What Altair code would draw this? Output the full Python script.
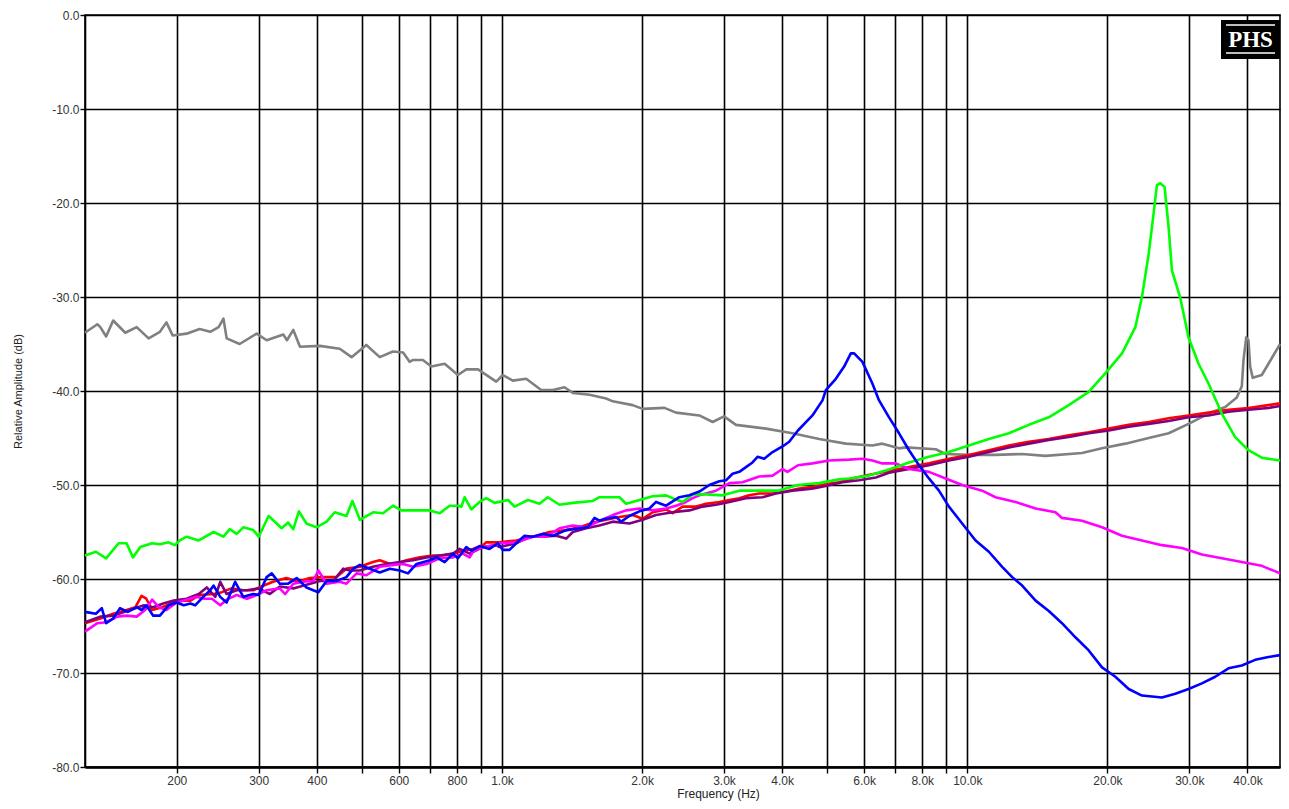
import altair as alt
import pandas as pd

# ---------------- data ----------------
gray_f = [127, 135, 137, 141, 146, 155, 164, 174, 184, 190, 196, 210, 224, 236, 246, 252, 256, 273, 297, 312,
          339, 345, 356, 368, 406, 448, 475, 511, 546, 583, 613, 633, 644, 676, 705, 753, 804, 838, 888, 972,
          1004, 1055, 1127, 1214, 1286, 1362, 1420, 1542, 1674, 1730, 1909, 2006, 2234, 2366, 2655, 2836, 3000,
          3183, 3692, 4210, 4804, 5481, 6251, 6568, 7133, 7374, 8551, 8984, 10077, 11498, 13118, 14723, 17641,
          19477, 21869, 24536, 27080, 29886, 32984, 35841, 37947, 38896, 39225, 39753, 40203, 40540, 41066,
          42937, 44384, 47019]
gray_db = [-33.8, -32.9, -33.2, -34.2, -32.5, -33.8, -33.2, -34.4, -33.7, -32.7, -34.1, -33.9, -33.4, -33.7,
           -33.2, -32.3, -34.4, -35.0, -33.9, -34.6, -34.0, -34.6, -33.5, -35.3, -35.2, -35.5, -36.4, -35.1,
           -36.4, -35.8, -35.9, -36.9, -36.7, -36.7, -37.4, -37.1, -38.3, -37.7, -37.7, -39.0, -38.3, -38.9,
           -38.7, -39.9, -39.9, -39.6, -40.2, -40.4, -40.8, -41.1, -41.5, -41.9, -41.8, -42.3, -42.6, -43.3,
           -42.7, -43.6, -44.0, -44.5, -45.1, -45.6, -45.8, -45.6, -46.1, -46.0, -46.2, -46.7, -46.8, -46.8,
           -46.7, -46.9, -46.6, -46.1, -45.6, -45.0, -44.5, -43.5, -42.4, -41.7, -40.7, -39.5, -36.7, -34.3,
           -34.6, -37.4, -38.6, -38.3, -37.1, -35.0]

green_f = [127, 134, 141, 150, 156, 161, 167, 177, 184, 192, 198, 203, 210, 223, 240, 252, 260, 269, 278, 292,
           300, 315, 328, 336, 347, 356, 366, 380, 399, 420, 437, 463, 477, 495, 528, 555, 583, 608, 655, 700,
           735, 772, 804, 818, 831, 859, 895, 925, 964, 1030, 1064, 1137, 1204, 1254, 1329, 1420, 1567, 1620,
           1788, 1848, 1974, 2108, 2252, 2326, 2444, 2569, 2744, 2979, 3236, 3571, 3918, 4325, 4804, 5302,
           5570, 6146, 6789, 7494, 8271, 9130, 10077, 11124, 12282, 13558, 14966, 16520, 18236, 19812, 21501,
           22972, 23731, 24536, 25141, 25553, 25990, 26546, 27080, 27530, 28659, 29886, 31405, 32984, 35237,
           37640, 40203, 42937, 47019]
green_db = [-57.5, -57.1, -57.8, -56.2, -56.2, -57.7, -56.6, -56.2, -56.3, -56.1, -56.4, -55.9, -55.5, -55.9,
            -55.0, -55.5, -54.7, -55.2, -54.5, -54.8, -55.5, -53.3, -54.1, -54.6, -54.0, -54.7, -52.8, -54.1,
            -54.5, -53.9, -52.9, -53.3, -51.7, -53.7, -52.9, -53.0, -52.2, -52.7, -52.7, -52.7, -53.0, -52.2,
            -52.2, -52.3, -51.3, -52.6, -51.8, -51.4, -51.9, -51.6, -52.3, -51.6, -52.0, -51.3, -52.1, -51.9,
            -51.7, -51.3, -51.3, -52.0, -51.6, -51.2, -51.1, -51.4, -51.8, -51.0, -51.0, -51.1, -50.6, -50.6,
            -50.6, -50.0, -49.8, -49.4, -49.3, -49.0, -48.35, -47.6, -47.0, -46.5, -45.8, -45.1, -44.5, -43.6,
            -42.8, -41.5, -40.1, -38.1, -36.0, -33.2, -30.0, -25.4, -21.1, -18.1, -17.9, -18.3, -22.6, -27.2,
            -30.0, -34.3, -37.1, -39.2, -42.4, -44.9, -46.3, -47.1, -47.4]

blue_f = [127, 134, 138, 141, 146, 151, 157, 164, 168, 172, 178, 184, 192, 200, 207, 214, 219, 228, 236, 240,
          248, 256, 267, 278, 292, 300, 312, 320, 333, 347, 362, 380, 393, 403, 420, 441, 463, 479, 495, 520,
          546, 574, 603, 628, 655, 700, 723, 753, 785, 804, 838, 859, 895, 940, 980, 1004, 1038, 1073, 1118,
          1165, 1224, 1286, 1374, 1468, 1529, 1580, 1620, 1674, 1759, 1803, 1878, 1974, 2074, 2143, 2252, 2405,
          2527, 2655, 2790, 2931, 3029, 3130, 3236, 3344, 3454, 3541, 3660, 3815, 4007, 4142, 4325, 4647, 4884,
          4966, 5217, 5436, 5619, 5712, 5951, 6251, 6461, 6789, 7133, 7494, 7874, 8271, 8691, 9130, 9750,
          10418, 11124, 11883, 12486, 13118, 14020, 14966, 15976, 17073, 18236, 19477, 20805, 22224, 23731,
          26195, 27990, 29886, 31923, 34104, 36420, 38896, 41562, 44384, 47019]
blue_db = [-63.5, -63.7, -63.1, -64.7, -64.2, -63.1, -63.5, -63.0, -63.3, -62.8, -63.9, -63.9, -62.8, -62.5,
           -62.8, -62.6, -62.8, -61.9, -61.2, -60.7, -61.9, -62.5, -60.3, -61.9, -61.6, -61.7, -59.8, -59.4,
           -60.5, -60.5, -59.9, -60.9, -61.2, -61.4, -60.2, -60.2, -59.8, -58.9, -58.5, -58.9, -59.3, -58.9,
           -59.1, -59.4, -58.4, -58.0, -57.7, -58.2, -57.3, -57.8, -56.6, -57.0, -56.5, -56.8, -56.2, -56.9,
           -56.9, -56.2, -55.4, -55.5, -55.2, -55.4, -54.8, -54.6, -54.5, -53.5, -53.8, -53.6, -53.4, -53.9,
           -53.3, -52.8, -52.5, -51.8, -52.2, -51.3, -51.1, -50.7, -50.0, -49.6, -49.5, -48.8, -48.6, -48.1,
           -47.6, -47.0, -47.2, -46.5, -45.9, -45.4, -44.2, -42.6, -41.0, -39.9, -38.7, -37.4, -36.0, -36.0,
           -36.9, -39.2, -41.0, -42.8, -44.5, -46.3, -47.9, -49.3, -50.6, -52.3, -54.1, -55.9, -57.1, -58.7,
           -59.8, -60.7, -62.3, -63.4, -64.7, -66.2, -67.6, -69.4, -70.4, -71.7, -72.4, -72.6, -72.2, -71.7,
           -71.1, -70.4, -69.5, -69.2, -68.6, -68.3, -68.1]

magenta_f = [127, 135, 141, 149, 156, 164, 171, 177, 183, 190, 200, 210, 221, 230, 238, 248, 256, 269, 283,
             297, 312, 333, 342, 356, 374, 393, 403, 420, 448, 463, 487, 511, 546, 583, 613, 644, 688, 735, 785,
             824, 852, 866, 881, 910, 972, 988, 1073, 1165, 1245, 1329, 1420, 1517, 1620, 1730, 1848, 1974,
             2108, 2252, 2366, 2486, 2569, 2655, 2884, 3081, 3288, 3571, 3815, 4007, 4107, 4325, 4647, 5047,
             5570, 5951, 6251, 6568, 7018, 7494, 8271, 8984, 9750, 10764, 11498, 12697, 14020, 15471, 15976,
             17641, 19477, 21501, 23731, 26195, 28919, 31923, 35237, 38896, 42937, 47019]
magenta_db = [-65.6, -64.7, -64.6, -64.0, -63.9, -64.0, -63.3, -62.2, -63.0, -63.3, -62.5, -62.2, -61.9, -62.1,
              -62.1, -62.8, -62.2, -61.7, -62.1, -61.7, -61.2, -61.0, -61.6, -60.5, -60.3, -60.2, -59.1, -60.5,
              -60.3, -60.5, -59.4, -59.6, -58.7, -58.5, -58.4, -58.7, -58.4, -57.8, -57.7, -57.3, -57.7, -57.1,
              -56.9, -56.6, -56.4, -56.2, -56.1, -55.5, -55.5, -54.6, -54.3, -54.5, -53.8, -53.2, -52.7, -52.5,
              -52.7, -52.5, -52.2, -51.8, -51.4, -51.1, -50.6, -49.8, -49.7, -49.1, -49.0, -48.3, -48.6, -47.9,
              -47.7, -47.4, -47.3, -47.2, -47.4, -47.7, -47.7, -48.3, -48.6, -49.3, -50.0, -50.6, -51.3, -51.8,
              -52.5, -52.9, -53.5, -53.8, -54.5, -55.4, -55.9, -56.4, -56.7, -57.4, -57.8, -58.2, -58.6, -59.4]

red_f = [127, 137, 146, 156, 163, 168, 172, 177, 186, 195, 203, 214, 224, 240, 250, 262, 278, 292, 304, 322,
         344, 365, 386, 413, 441, 463, 495, 528, 546, 583, 623, 666, 711, 747, 785, 824, 866, 910, 925, 988,
         1073, 1165, 1265, 1374, 1468, 1567, 1674, 1788, 1909, 2006, 2108, 2252, 2326, 2444, 2612, 2744, 2931,
         3081, 3236, 3395, 3571, 3815, 4076, 4325, 4647, 4966, 5302, 5662, 6049, 6789, 7494, 8271, 9130,
         10077, 11124, 12282, 13558, 14966, 16520, 18236, 20138, 22224, 24536, 27080, 29886, 32984, 36420,
         40203, 44384, 47019]
red_db = [-64.7, -64.2, -63.7, -63.3, -63.0, -61.8, -62.1, -63.3, -63.0, -62.6, -62.3, -62.3, -61.7, -61.6,
          -61.4, -61.0, -61.2, -61.2, -60.8, -60.3, -59.9, -60.3, -59.9, -59.8, -59.8, -58.9, -58.7, -58.2,
          -58.0, -58.5, -58.0, -57.7, -57.5, -57.5, -57.3, -57.0, -56.8, -56.4, -56.1, -56.1, -55.9, -55.5,
          -55.0, -54.8, -54.5, -54.0, -53.7, -53.4, -53.2, -53.6, -52.9, -52.6, -53.0, -52.3, -52.3, -52.0,
          -51.8, -51.6, -51.4, -51.1, -50.9, -50.9, -50.7, -50.4, -50.2, -49.9, -49.7, -49.3, -49.0, -48.5,
          -48.1, -47.7, -47.2, -46.8, -46.3, -45.8, -45.4, -45.1, -44.7, -44.4, -44.0, -43.6, -43.3, -42.9,
          -42.6, -42.3, -42.0, -41.8, -41.5, -41.3]

purple_f = [127, 137, 146, 154, 161, 170, 178, 187, 197, 210, 223, 232, 242, 248, 256, 269, 283, 300, 317, 333,
            356, 380, 406, 434, 456, 471, 495, 528, 565, 603, 644, 688, 735, 785, 811, 852, 910, 972, 988, 1073,
            1146, 1224, 1308, 1374, 1420, 1517, 1620, 1730, 1878, 2006, 2143, 2326, 2527, 2699, 2884, 3081,
            3344, 3630, 3877, 4210, 4629, 4966, 5389, 5853, 6359, 6789, 7494, 8271, 9130, 10077, 11124, 12282,
            13558, 14966, 16520, 18236, 20138, 22224, 24536, 27080, 29886, 32984, 36420, 40203, 44384, 47019]
purple_db = [-64.6, -64.0, -63.9, -63.5, -63.2, -62.8, -63.0, -62.6, -62.3, -62.1, -61.6, -60.9, -61.9, -60.3,
             -61.6, -61.2, -61.2, -61.0, -61.6, -60.8, -61.0, -60.6, -60.2, -60.2, -58.9, -59.1, -59.1, -58.7,
             -58.4, -58.2, -58.0, -57.7, -57.5, -57.3, -56.8, -57.3, -56.6, -56.4, -56.6, -56.2, -55.5, -55.5,
             -55.4, -55.7, -55.0, -54.6, -54.3, -53.9, -54.1, -53.7, -53.2, -52.9, -52.7, -52.3, -52.1, -51.8,
             -51.4, -51.3, -50.9, -50.6, -50.4, -50.1, -49.7, -49.5, -49.2, -48.7, -48.3, -47.9, -47.4, -47.0,
             -46.5, -46.0, -45.6, -45.2, -44.9, -44.5, -44.2, -43.8, -43.5, -43.2, -42.8, -42.6, -42.2, -42.0,
             -41.8, -41.6]

series_names = ["gray", "red", "purple", "magenta", "green", "blue"]
series_colors = ["#808080", "#ff0000", "#800080", "#ff00ff", "#00ff00", "#0000ff"]
series_data = {
    "gray": (gray_f, gray_db),
    "red": (red_f, red_db),
    "purple": (purple_f, purple_db),
    "magenta": (magenta_f, magenta_db),
    "green": (green_f, green_db),
    "blue": (blue_f, blue_db),
}

x_grid_values = [200, 300, 400, 500, 600, 700, 800, 900, 1000, 2000, 3000, 4000, 5000, 6000, 7000, 8000,
                 9000, 10000, 20000, 30000, 40000]
x_label_values = [200, 300, 400, 600, 800, 1000, 2000, 3000, 4000, 6000, 8000, 10000, 20000, 30000, 40000]
y_values = [0, -10, -20, -30, -40, -50, -60, -70, -80]

rows = []
for name in series_names:
    fs, dbs = series_data[name]
    for f, d in zip(fs, dbs):
        rows.append({"series": name, "freq": f, "db": d})
df = pd.DataFrame(rows)

W, H = 1195, 752

label_list = ",".join(str(v) for v in x_label_values)
x_label_expr = (
    f"indexof([{label_list}], datum.value) >= 0 ? "
    "(datum.value >= 1000 ? format(datum.value / 1000, '.1f') + 'k' : format(datum.value, 'd')) : ''"
)

x_enc = alt.X(
    "freq:Q",
    scale=alt.Scale(type="log", domain=[127, 46990], nice=False),
    axis=alt.Axis(
        values=x_grid_values,
        labelExpr=x_label_expr,
        title="Frequency (Hz)",
        titleX=633,
        titleY=30,
        titleAlign="center",
        titleBaseline="alphabetic",
        titleFontSize=12,
        titleFontWeight="normal",
        titleColor="#222222",
        labelFontSize=12,
        labelColor="#333333",
        labelPadding=2,
        labelFlush=False,
        labelOverlap=False,
        tickSize=6,
        tickColor="#000000",
        tickWidth=1.4,
        grid=True,
        gridColor="#000000",
        gridWidth=1.6,
        gridOpacity=1,
        domainColor="#000000",
        domainWidth=2.5,
    ),
)
y_enc = alt.Y(
    "db:Q",
    scale=alt.Scale(domain=[-80, 0], nice=False),
    axis=alt.Axis(
        values=y_values,
        labelExpr="(datum.value < 0 ? '-' : '') + format(abs(datum.value), '.1f')",
        title="Relative Amplitude (dB)",
        titleX=-67,
        titleY=376,
        titleAngle=270,
        titleAlign="center",
        titleBaseline="middle",
        titleFontSize=11,
        titleFontWeight="normal",
        titleColor="#222222",
        labelFontSize=12,
        labelColor="#333333",
        labelPadding=1,
        tickSize=5,
        tickColor="#000000",
        tickWidth=1.4,
        grid=True,
        gridColor="#000000",
        gridWidth=1.6,
        gridOpacity=1,
        domainColor="#000000",
        domainWidth=1.6,
    ),
)

layers = []
for name, color in zip(series_names, series_colors):
    layers.append(
        alt.Chart(df)
        .transform_filter(alt.datum.series == name)
        .mark_line(color=color, strokeWidth=2.6, strokeJoin="round")
        .encode(x=x_enc, y=y_enc)
    )

# PHS logo (decoration)
logo_df = pd.DataFrame({"t": ["PHS"]})
logo_box = alt.Chart(logo_df).mark_rect(color="#000000").encode(
    x=alt.value(1136), x2=alt.value(1195), y=alt.value(5), y2=alt.value(44)
)
logo_top = alt.Chart(logo_df).mark_rule(color="#ffffff", strokeWidth=1.5).encode(
    x=alt.value(1141), x2=alt.value(1190), y=alt.value(10)
)
logo_bot = alt.Chart(logo_df).mark_rule(color="#ffffff", strokeWidth=1.5).encode(
    x=alt.value(1141), x2=alt.value(1190), y=alt.value(38)
)
logo_text = alt.Chart(logo_df).mark_text(
    font="Liberation Serif", fontWeight="bold", fontSize=23, color="#ffffff",
    align="center", baseline="middle"
).encode(x=alt.value(1165.5), y=alt.value(25), text="t:N")

chart = (
    alt.layer(*layers, logo_box, logo_top, logo_bot, logo_text)
    .properties(
        width=W,
        height=H,
        autosize=alt.AutoSizeParams(type="none"),
        padding={"left": 77, "top": 7, "right": 1, "bottom": 34},
        background="#ffffff",
    )
    .configure_view(stroke="#000000", strokeWidth=1.6)
    .configure_axis(labelFont="Liberation Sans", titleFont="Liberation Sans")
)

chart.save("out.html", embed_options={"renderer": "svg", "actions": False})
